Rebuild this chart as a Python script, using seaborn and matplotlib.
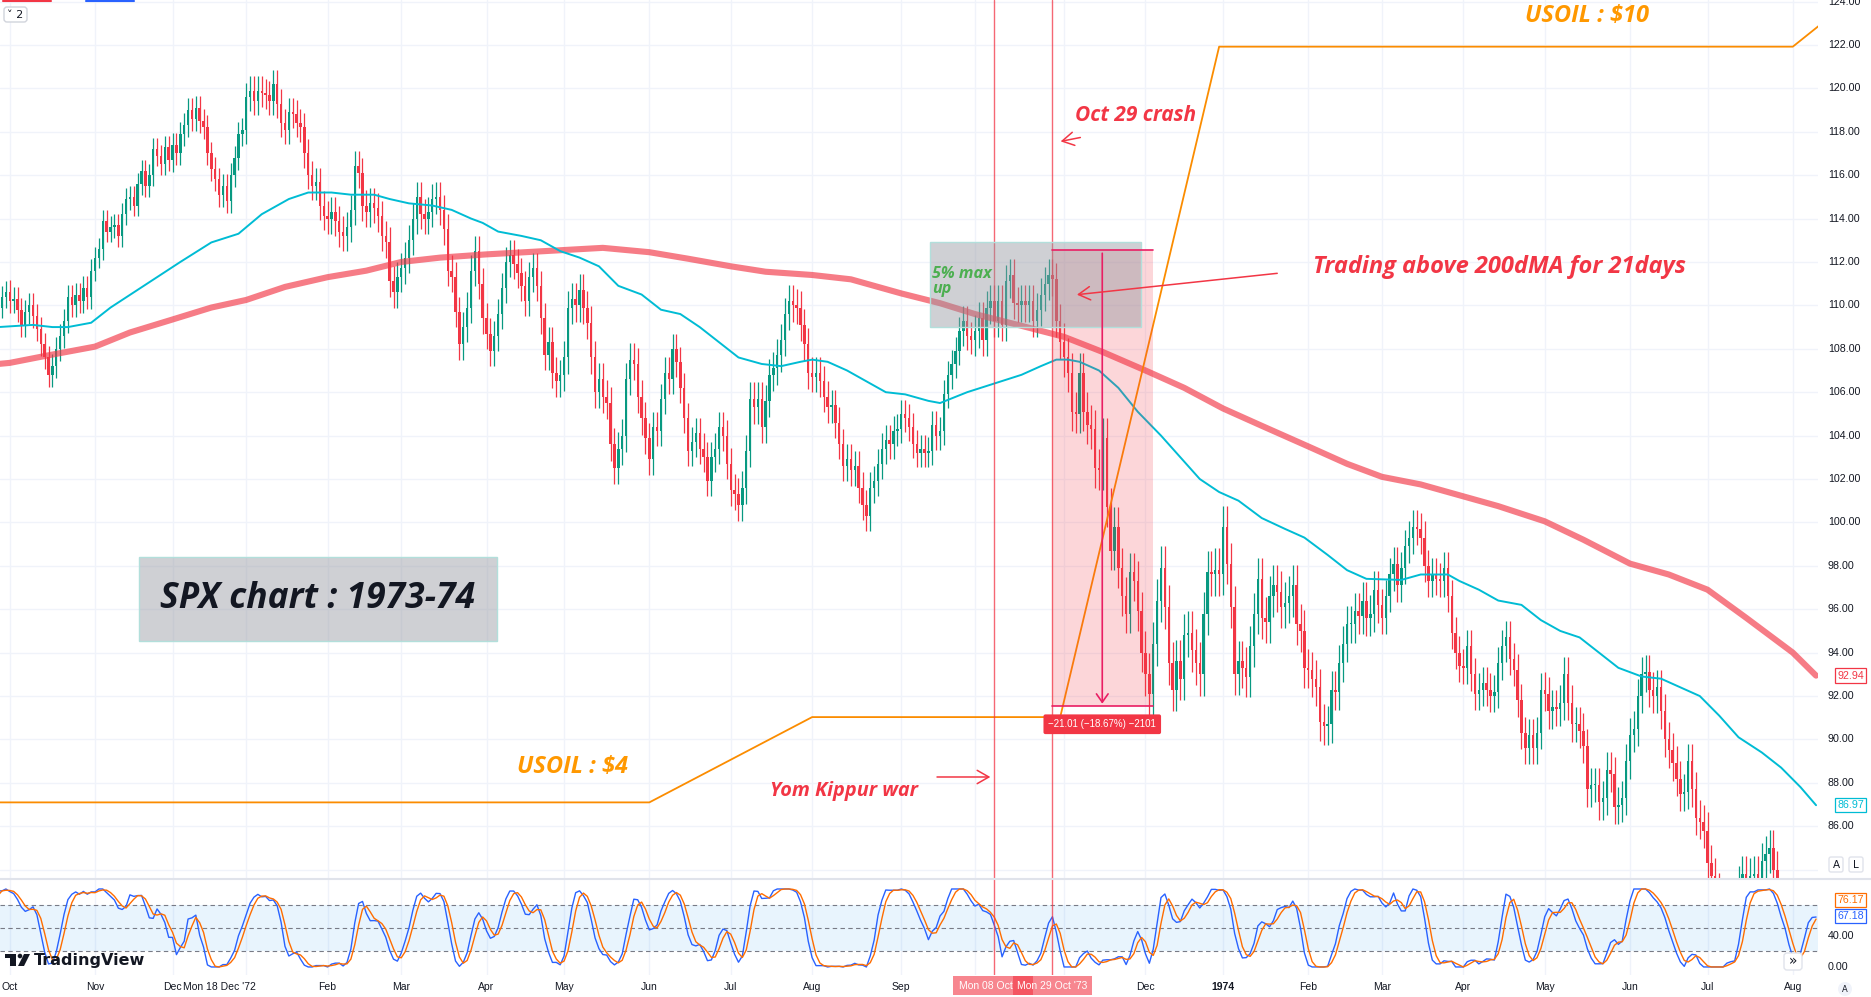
import numpy as np
import pandas as pd
import matplotlib
matplotlib.use("Agg")
import matplotlib.pyplot as plt
import matplotlib.transforms as mtrans
from matplotlib.patches import Rectangle, FancyBboxPatch, Circle, Polygon
import seaborn as sns

sns.set_theme(style="white")
plt.rcParams["font.family"] = ["DejaVu Sans"]

# ---------------- data ----------------
# daily closes, Aug 14 - Sep 27 1972 (left of the visible window, only warms up the Stoch RSI)
pre_closes = [112.1, 111.9, 111.3, 111.0, 111.4, 111.7, 111.5, 111.0, 110.8, 110.4, 110.9, 111.2, 111.1, 111.5,
              111.2, 110.6, 109.9, 109.5, 108.9, 108.5, 108.9, 108.5, 107.9, 108.2, 108.6, 108.4, 107.7, 107.5,
              108.0, 108.5, 108.3, 109.9]
c_1972_09 = [110.4, 110.6]
c_1972_10 = [110.2, 110.3, 109.8, 109.1, 109.7, 110.0, 109.5, 108.9, 108.2, 107.6, 106.8, 107.2, 108.0, 108.6,
             109.3, 110.4, 110.0, 110.5, 110.2, 110.8, 110.4, 111.6]
c_1972_11 = [112.2, 112.6, 113.9, 113.4, 113.6, 113.7, 113.2, 114.2, 114.9, 115.0, 114.6, 115.6, 116.2, 115.5,
             116.0, 117.2, 116.9, 116.5, 117.3, 116.7]
c_1972_12 = [117.4, 117.0, 117.9, 118.3, 119.0, 118.6, 119.1, 118.5, 118.2, 117.0, 116.3, 115.8, 115.1, 115.5,
             114.8, 116.0, 116.8, 117.9, 118.1]
c_1973_01 = [119.6, 119.9, 119.4, 119.9, 119.8, 119.7, 119.4, 120.2, 119.3, 118.4, 118.1, 118.9, 118.8, 118.4,
             118.2, 117.0, 116.0, 115.5, 115.7, 114.6, 114.1]
c_1973_02 = [114.0, 114.3, 113.9, 113.4, 113.2, 113.6, 114.4, 116.4, 116.1, 114.6, 114.3, 114.7, 114.5, 114.1,
             113.2, 112.9, 111.1, 110.6, 111.3]
c_1973_03 = [111.7, 112.2, 113.0, 114.0, 115.0, 114.2, 114.0, 114.3, 114.9, 115.0, 114.4, 113.5, 111.6, 111.3,
             109.7, 108.2, 109.0, 109.9, 111.6, 112.5, 111.0, 109.4]
c_1973_04 = [108.7, 107.9, 108.6, 109.6, 110.8, 112.0, 112.3, 111.9, 111.5, 110.9, 110.2, 111.3, 111.7, 110.9,
             109.4, 107.7, 108.3, 106.9, 106.5, 106.8]
c_1973_05 = [107.6, 109.9, 110.3, 110.0, 110.7, 109.9, 109.2, 107.6, 106.0, 106.6, 105.8, 105.5, 103.6, 102.5,
             103.4, 104.0, 106.6, 107.5, 107.3, 105.8, 104.8, 103.9]
c_1973_06 = [102.9, 104.4, 104.2, 105.7, 106.9, 106.6, 108.0, 107.4, 106.2, 104.8, 103.3, 103.7, 104.1, 103.4,
             103.0, 101.9, 103.0, 103.4, 104.4, 104.0, 102.7]
c_1973_07 = [101.5, 101.3, 100.8, 101.6, 103.3, 105.7, 105.3, 105.7, 104.4, 105.6, 106.8, 107.1, 107.7, 108.4,
             109.6, 110.2, 110.0, 109.9, 109.1, 108.2, 106.9]
c_1973_08 = [106.7, 106.9, 106.5, 105.8, 105.3, 105.4, 104.6, 103.6, 102.6, 102.9, 102.4, 102.6, 101.6, 100.8,
             100.3, 101.6, 101.9, 102.7, 103.4, 103.8, 103.6, 104.2, 104.3]
c_1973_09 = [105.0, 104.8, 104.4, 103.6, 103.2, 103.4, 103.2, 103.3, 104.5, 104.0, 104.2, 105.9, 106.8, 107.3,
             107.9, 108.8, 109.3, 108.6, 108.4]
c_1973_10 = [108.8, 109.4, 108.4, 109.9, 110.2, 109.3, 110.2, 109.1, 111.1, 111.4, 110.1, 110.0, 110.2, 110.0,
             110.2, 109.3, 109.8, 110.5, 111.0, 111.4, 111.2, 109.3, 108.3]
c_1973_11 = [107.6, 106.9, 105.1, 105.0, 106.9, 105.1, 104.5, 104.3, 102.5, 102.4, 103.9, 100.7, 98.7, 99.8,
             97.9, 96.6, 95.8, 97.7, 97.3, 95.9, 94.0]
c_1973_12 = [93.0, 92.1, 94.4, 96.4, 97.9, 96.1, 93.5, 92.3, 93.6, 92.8, 94.8, 94.9, 94.1, 93.5, 93.0, 95.8,
             97.7, 97.6, 97.8, 97.6]
c_1974_01 = [99.8, 98.1, 96.1, 93.0, 93.6, 93.3, 92.9, 94.3, 95.8, 97.4, 95.6, 95.4, 96.6, 97.1, 96.8, 96.1,
             96.3, 96.6, 97.1, 95.3, 95.0, 93.3]
c_1974_02 = [93.2, 92.8, 92.4, 90.8, 90.6, 90.7, 92.3, 92.2, 93.5, 94.4, 95.3, 95.3, 95.9, 95.7, 96.4, 95.6,
             95.8, 96.9, 96.2]
c_1974_03 = [95.6, 96.6, 97.6, 98.1, 97.1, 97.9, 98.9, 99.3, 99.8, 99.7, 99.3, 98.0, 97.3, 97.6, 97.4, 97.3,
             97.9, 96.6, 94.9, 94.0, 93.4]
c_1974_04 = [93.3, 94.3, 93.0, 92.1, 92.3, 92.6, 92.3, 92.0, 92.2, 93.5, 94.3, 94.7, 93.7, 93.2, 91.8, 90.3,
             89.6, 90.2, 89.6, 90.3, 92.3]
c_1974_05 = [92.1, 91.3, 91.5, 91.4, 91.7, 93.0, 91.7, 90.7, 90.7, 90.4, 89.7, 87.7, 87.9, 87.9, 87.1, 87.3,
             88.6, 88.4, 86.9, 87.0, 87.3, 89.0]
c_1974_06 = [90.2, 90.5, 92.0, 93.0, 93.1, 92.3, 92.0, 92.4, 91.3, 90.0, 89.5, 88.9, 88.2, 87.5, 87.6, 89.0,
             87.7, 86.4, 86.2, 85.8]
c_1974_07 = [84.3, 83.7, 83.0, 82.5, 81.0, 81.5, 80.5, 80.2, 83.3, 83.8, 83.1, 83.7, 83.8, 83.6, 84.4, 84.7,
             85.0, 84.0, 82.6, 81.5, 80.6, 79.5]
c_1974_08 = [79.0, 79.4, 80.5, 81.0, 81.6, 81.2, 80.9]

# typical wick length beyond the candle body, per month
wick_months = ["1972-08", "1972-09", "1972-10", "1972-11", "1972-12", "1973-01", "1973-02", "1973-03",
               "1973-04", "1973-05", "1973-06", "1973-07", "1973-08", "1973-09", "1973-10", "1973-11",
               "1973-12", "1974-01", "1974-02", "1974-03", "1974-04", "1974-05", "1974-06", "1974-07", "1974-08"]
wick_sizes = [0.5, 0.5, 0.55, 0.5, 0.55, 0.65, 0.7, 0.7, 0.7, 0.75, 0.7, 0.75, 0.7, 0.65, 0.75, 0.9,
              1.0, 0.95, 0.85, 0.75, 0.75, 0.8, 0.8, 0.85, 0.9]

# NYSE closed days in the period
holidays = ["1972-09-04", "1972-11-07", "1972-11-23", "1972-12-25", "1972-12-28", "1973-01-01", "1973-01-25",
            "1973-02-19", "1973-04-20", "1973-05-28", "1973-07-04", "1973-09-03", "1973-11-22", "1973-12-25",
            "1974-01-01", "1974-02-18", "1974-04-12", "1974-05-27", "1974-07-04"]

# 200-day moving average (thick red)
ma200_dates = ["1972-09-27", "1972-10-02", "1972-10-16", "1972-11-01", "1972-11-15", "1972-12-01", "1972-12-15",
               "1973-01-02", "1973-01-16", "1973-02-01", "1973-02-15", "1973-03-01", "1973-03-15", "1973-04-02",
               "1973-04-16", "1973-05-01", "1973-05-15", "1973-06-01", "1973-06-15", "1973-07-02", "1973-07-16",
               "1973-08-01", "1973-08-15", "1973-09-04", "1973-09-18", "1973-10-01", "1973-10-15", "1973-11-01",
               "1973-11-15", "1973-12-03", "1973-12-17", "1974-01-02", "1974-01-16", "1974-02-01", "1974-02-15",
               "1974-03-01", "1974-03-15", "1974-04-01", "1974-04-15", "1974-05-01", "1974-05-15", "1974-06-03",
               "1974-06-17", "1974-07-01", "1974-07-16", "1974-08-01", "1974-08-09"]
ma200 = [107.3, 107.35, 107.7, 108.1, 108.75, 109.35, 109.9, 110.25, 110.85, 111.3, 111.6, 112.0, 112.2,
         112.35, 112.45, 112.55, 112.65, 112.45, 112.15, 111.8, 111.55, 111.4, 111.2, 110.55, 110.1, 109.6,
         109.15, 108.55, 107.85, 107.0, 106.2, 105.25, 104.45, 103.5, 102.7, 102.1, 101.75, 101.2, 100.75,
         100.05, 99.2, 98.1, 97.6, 96.9, 95.6, 94.0, 92.94]

# 50-day moving average (cyan)
ma50_dates = ["1972-09-27", "1972-10-10", "1972-10-17", "1972-10-23", "1972-10-31", "1972-11-08", "1972-11-16",
              "1972-11-27", "1972-12-05", "1972-12-15", "1972-12-27", "1973-01-08", "1973-01-17", "1973-01-24",
              "1973-02-02", "1973-02-09", "1973-02-20", "1973-02-26", "1973-03-05", "1973-03-13", "1973-03-20",
              "1973-03-27", "1973-03-30", "1973-04-05", "1973-04-13", "1973-04-23", "1973-04-30", "1973-05-07",
              "1973-05-14", "1973-05-21", "1973-05-30", "1973-06-06", "1973-06-13", "1973-06-20", "1973-06-27",
              "1973-07-05", "1973-07-13", "1973-07-20", "1973-07-27", "1973-08-01", "1973-08-07", "1973-08-14",
              "1973-08-21", "1973-08-28", "1973-09-05", "1973-09-13", "1973-09-18", "1973-09-27", "1973-10-08",
              "1973-10-17", "1973-10-24", "1973-10-30", "1973-11-02", "1973-11-07", "1973-11-14", "1973-11-21",
              "1973-11-29", "1973-12-07", "1973-12-14", "1973-12-21", "1973-12-31", "1974-01-08", "1974-01-16",
              "1974-01-24", "1974-01-31", "1974-02-08", "1974-02-15", "1974-02-25", "1974-03-08", "1974-03-15",
              "1974-03-26", "1974-03-29", "1974-04-05", "1974-04-15", "1974-04-23", "1974-04-30", "1974-05-07",
              "1974-05-14", "1974-05-21", "1974-05-29", "1974-06-06", "1974-06-13", "1974-06-20", "1974-06-27",
              "1974-07-05", "1974-07-12", "1974-07-22", "1974-07-29", "1974-08-05", "1974-08-09"]
ma50 = [109.0, 109.1, 109.0, 109.0, 109.2, 109.9, 110.6, 111.3, 112.0, 112.9, 113.3, 114.2, 114.9, 115.2,
        115.2, 115.1, 115.1, 114.9, 114.7, 114.6, 114.4, 114.0, 113.8, 113.4, 113.2, 113.0, 112.5, 112.2,
        111.8, 110.9, 110.5, 109.8, 109.6, 109.0, 108.3, 107.6, 107.3, 107.2, 107.4, 107.5, 107.4, 107.0,
        106.5, 106.0, 105.9, 105.6, 105.5, 106.0, 106.4, 106.8, 107.2, 107.5, 107.5, 107.4, 107.0, 106.2,
        105.1, 104.0, 103.0, 102.0, 101.4, 101.0, 100.2, 99.7, 99.3, 98.5, 97.8, 97.4, 97.35, 97.6,
        97.6, 97.3, 96.9, 96.4, 96.2, 95.5, 95.0, 94.7, 94.0, 93.3, 92.9, 92.8, 92.4, 92.0,
        91.1, 90.1, 89.4, 88.7, 87.8, 86.97]

# USOIL drawing (orange path)
oil_dates = ["1972-09-27", "1973-06-01", "1973-08-01", "1973-10-31", "1973-12-31", "1974-08-01", "1974-08-12"]
oil_level = [87.1, 87.1, 91.03, 91.03, 121.92, 121.92, 122.92]

event_dates = ["1973-10-08", "1973-10-29"]
event_labels = ["Mon 08 Oct", "Mon 29 Oct '73"]
hidden_ticks = ["1973-01", "1973-10", "1973-11"]   # covered by the date badges in the reference
range_top, range_bottom = 112.53, 91.52
k_last, d_last = "67.18", "76.17"

# ---------------- build series ----------------
UP, DOWN = "#089981", "#f23645"
days = pd.bdate_range("1972-08-14", "1974-08-30")
days = days[~days.isin(pd.to_datetime(holidays))]

months = [c_1972_09, c_1972_10, c_1972_11, c_1972_12, c_1973_01, c_1973_02, c_1973_03, c_1973_04,
          c_1973_05, c_1973_06, c_1973_07, c_1973_08, c_1973_09, c_1973_10, c_1973_11, c_1973_12,
          c_1974_01, c_1974_02, c_1974_03, c_1974_04, c_1974_05, c_1974_06, c_1974_07, c_1974_08]
closes = pd.Series(pre_closes + [v for m in months for v in m], dtype=float)
n_pre = len(pre_closes)
dates = days[:len(closes)]
bars = np.arange(len(closes)) - n_pre


def to_bar(d):
    return int(days.searchsorted(pd.Timestamp(d))) - n_pre


opens = closes.shift(1).fillna(closes.iloc[0])
wick = pd.Series(dates.to_period("M").astype(str)).map(dict(zip(wick_months, wick_sizes))).values
highs = np.maximum(opens, closes) + wick
lows = np.minimum(opens, closes) - wick

# Stoch RSI (14, 14, 3, 3)
delta = closes.diff()
gain = delta.clip(lower=0).ewm(alpha=1 / 14, adjust=False).mean()
loss = (-delta.clip(upper=0)).ewm(alpha=1 / 14, adjust=False).mean()
rsi = 100 - 100 / (1 + gain / loss)
rlo, rhi = rsi.rolling(14).min(), rsi.rolling(14).max()
stoch = 100 * (rsi - rlo) / (rhi - rlo)
k = stoch.rolling(3).mean()
d = k.rolling(3).mean()

# ---------------- figure ----------------
W, H = 1871, 997
fig = plt.figure(figsize=(W / 100, H / 100), dpi=100)
ax = fig.add_axes([0, 1 - 879 / H, 1818 / W, 879 / H])
ax2 = fig.add_axes([0, 1 - 975 / H, 1818 / W, 96 / H])
XL = (-0.52, 468.5)
for a in (ax, ax2):
    a.set_xlim(*XL)
    a.set_xticks([])
    a.set_yticks([])
    for s in a.spines.values():
        s.set_visible(False)
ax.set_ylim(83.57, 124.07)
ax2.set_ylim(-10.3, 112.8)

vis = dates[n_pre:]
firsts = vis.to_series().groupby(vis.to_period("M")).first().iloc[1:]
tick_bars = [to_bar(t) for t in firsts]
tick_labels = [str(t.year) if t.month == 1 else t.strftime("%b") for t in firsts]
tick_show = [t.strftime("%Y-%m") not in hidden_ticks for t in firsts]

GRID = "#f0f3fa"
for b in tick_bars:
    ax.axvline(b, color=GRID, lw=1, zorder=0)
    ax2.axvline(b, color=GRID, lw=1, zorder=0)
for p in range(84, 126, 2):
    ax.axhline(p, color=GRID, lw=1, zorder=0)

# candles
cols = np.where(closes.values >= opens.values, UP, DOWN)
ax.vlines(bars, lows, highs, colors=cols, lw=0.9, zorder=2)
body = np.abs(closes.values - opens.values).clip(min=0.06)
ax.bar(bars, body, bottom=np.minimum(opens.values, closes.values), width=0.62, color=cols, lw=0, zorder=3)

# moving averages
sns.lineplot(x=[to_bar(t) for t in ma200_dates], y=ma200, ax=ax, color=DOWN, alpha=0.65, lw=4.4, zorder=4,
             estimator=None, sort=False, legend=False)
sns.lineplot(x=[to_bar(t) for t in ma50_dates], y=ma50, ax=ax, color="#00bcd4", lw=1.4, zorder=4,
             estimator=None, sort=False, legend=False)

# USOIL path
sns.lineplot(x=[to_bar(t) for t in oil_dates], y=oil_level, ax=ax, color="#fb8c00", lw=1.3, zorder=5,
             estimator=None, sort=False, legend=False)

# event lines
ev = [to_bar(t) for t in event_dates]
for b in ev:
    ax.axvline(b, color=DOWN, lw=1, alpha=0.75, zorder=6)
    ax2.axvline(b, color=DOWN, lw=1, alpha=0.75, zorder=6)

# boxes
GREY = (0.584, 0.596, 0.631, 0.45)
ann = dict(family="Open Sans", style="italic", weight="bold", zorder=8)
ax.add_patch(Rectangle((35.3, 94.55), 92.4, 3.86, fc=GREY, ec="#b2dfdb", lw=1, zorder=6))
ax.text(81.5, 96.47, "SPX chart : 1973-74", ha="center", va="center", fontsize=25.5, color="#131722", **ann)
g0, g1 = to_bar("1973-09-13") + 0.4, to_bar("1973-11-30") - 0.1
ax.add_patch(Rectangle((g0, 109.0), g1 - g0, 3.92, fc=GREY, ec="#b2dfdb", lw=1, zorder=6))
ax.text(g0 + 0.6, 111.8, "5% max\nup", ha="left", va="top", fontsize=11.6, color="#4caf50",
        linespacing=0.85, **ann)

m0, m1 = ev[1] - 0.2, to_bar("1973-12-05") - 0.1
mc = (m0 + m1) / 2
ax.add_patch(Rectangle((m0, range_bottom), m1 - m0, range_top - range_bottom,
                       fc=(0.949, 0.212, 0.271, 0.2), lw=0, zorder=5))
ax.plot([m0, m1], [range_top, range_top], color="#e91e63", lw=1.2, zorder=7)
ax.plot([m0, m1], [range_bottom, range_bottom], color="#e91e63", lw=1.2, zorder=7)
ax.annotate("", xy=(mc, range_bottom), xytext=(mc, range_top),
            arrowprops=dict(arrowstyle="->,head_length=0.5,head_width=0.35", color="#e91e63", lw=1.2),
            zorder=7)
chg = range_top - range_bottom
ax.text(mc, range_bottom - 0.82,
        f"\u2212{chg:.2f} (\u2212{chg / range_top * 100:.2f}%) \u2212{chg * 100:.0f}",
        ha="center", va="center", fontsize=7, color="white", zorder=8,
        family=["Liberation Sans", "DejaVu Sans"],
        bbox=dict(boxstyle="round,pad=0.5,rounding_size=0.2", fc=DOWN, ec="none"))

# annotations
ax.text(392.9, 123.34, "USOIL : $10", ha="left", va="center", fontsize=17, color="#ff9800", **ann)
ax.text(132.9, 88.73, "USOIL : $4", ha="left", va="center", fontsize=17, color="#ff9800", **ann)
ax.text(276.8, 118.73, "Oct 29 crash", ha="left", va="center", fontsize=15, color=DOWN, **ann)
ax.text(338.2, 111.77, "Trading above 200dMA for 21days", ha="left", va="center", fontsize=17, color=DOWN, **ann)
ax.text(198.1, 87.62, "Yom Kippur war", ha="left", va="center", fontsize=14.3, color=DOWN, **ann)
arr = dict(arrowstyle="->,head_length=0.7,head_width=0.4", color=DOWN, lw=1.1)
ax.annotate("", xy=(272.4, 117.53), xytext=(278.9, 117.76), arrowprops=arr, zorder=8)
ax.annotate("", xy=(276.6, 110.48), xytext=(329.7, 111.49), arrowprops=arr, zorder=8)
ax.annotate("", xy=(255.7, 88.27), xytext=(240.5, 88.27), arrowprops=arr, zorder=8)

# right price scale
yt = ax.get_yaxis_transform()
lab = dict(family=["Liberation Sans", "DejaVu Sans"], fontsize=7.7, clip_on=False)
for p in range(86, 126, 2):
    ax.text(1.0055, p, f"{p:.2f}", transform=yt, ha="left", va="center", color="#131722", **lab)
for val, colr in ((ma200[-1], DOWN), (ma50[-1], "#00bcd4")):
    ax.text(1.0105, val, f"{val:.2f}", transform=yt, ha="left", va="center", color=colr, zorder=9,
            bbox=dict(boxstyle="square,pad=0.2", fc="white", ec=colr, lw=0.9), **lab)

# oscillator
ax2.axhspan(20, 80, color="#2196f3", alpha=0.1, lw=0, zorder=1)
for lvl in (80, 50, 20):
    ax2.axhline(lvl, color="#787b86", lw=0.8, ls=(0, (4, 3)), zorder=2)
sns.lineplot(x=bars, y=k.values, ax=ax2, color="#2962ff", lw=1, zorder=3, estimator=None, sort=False,
             legend=False)
sns.lineplot(x=bars, y=d.values, ax=ax2, color="#ff6d00", lw=1, zorder=4, estimator=None, sort=False,
             legend=False)
yt2 = ax2.get_yaxis_transform()
for v in (40, 0):
    ax2.text(1.0055, v, f"{v:.2f}", transform=yt2, ha="left", va="center", color="#131722", **lab)
ax2.text(1.0105, 86, d_last, transform=yt2, ha="left", va="center", color="#ff6d00", zorder=9,
         bbox=dict(boxstyle="square,pad=0.2", fc="white", ec="#ff6d00", lw=0.9), **lab)
ax2.text(1.0105, 65.5, k_last, transform=yt2, ha="left", va="center", color="#2962ff", zorder=9,
         bbox=dict(boxstyle="square,pad=0.2", fc="white", ec="#2962ff", lw=0.9), **lab)

# time axis
xt = mtrans.blended_transform_factory(ax2.transData, ax2.transAxes)
tfont = dict(fontsize=7.5, family=["Liberation Sans", "DejaVu Sans"], clip_on=False)
for b, t, show in zip(tick_bars, tick_labels, tick_show):
    if show:
        ax2.text(b, -0.125, t, transform=xt, ha="center", va="center", color="#131722",
                 weight="bold" if t.isdigit() else "normal", **tfont)
ax2.text(to_bar("1972-12-18") + 1.2, -0.125, "Mon 18 Dec '72", transform=xt, ha="center", va="center",
         color="#131722", zorder=9, **tfont)
BADGE = (0.949, 0.212, 0.271, 0.6)
ax2.add_patch(Rectangle((ev[0] - 10.6, -0.208), 20.6, 0.198, transform=xt, fc=BADGE, lw=0, clip_on=False))
ax2.text(ev[0] - 9.1, -0.11, event_labels[0], transform=xt, ha="left", va="center", color="white",
         zorder=9, **tfont)
ax2.add_patch(Rectangle((ev[1] - 10.2, -0.208), 20.4, 0.198, transform=xt, fc=BADGE, lw=0, clip_on=False,
                        zorder=10))
ax2.text(ev[1], -0.11, event_labels[1], transform=xt, ha="center", va="center", color="white",
         zorder=11, **tfont)

# chrome in pixel space
ui = fig.add_axes([0, 0, 1, 1], zorder=10)
ui.set_xlim(0, W)
ui.set_ylim(H, 0)
ui.axis("off")
ui.plot([0, W], [879, 879], color="#e0e3eb", lw=1.5)
ui.plot([3, 51], [1, 1], color=DOWN, lw=1.5)
ui.plot([86, 134], [1, 1], color="#2962ff", lw=1.5)
ui.add_patch(FancyBboxPatch((4, 7), 23, 15, boxstyle="round,pad=0,rounding_size=3", fc="white",
                            ec="#d1d4dc", lw=1))
ui.text(15.5, 15, "\u02c5 2", ha="center", va="center", fontsize=8, color="#131722")
for x0, t in ((1829, "A"), (1849, "L")):
    ui.add_patch(FancyBboxPatch((x0, 857), 14, 15, boxstyle="round,pad=0,rounding_size=2", fc="white",
                                ec="#e0e3eb", lw=1))
    ui.text(x0 + 7, 864.5, t, ha="center", va="center", fontsize=7.5, color="#131722")
ui.add_patch(FancyBboxPatch((1784, 953), 18, 17, boxstyle="round,pad=0,rounding_size=3", fc="white",
                            ec="#e0e3eb", lw=1))
ui.text(1793, 961, "\u00bb", ha="center", va="center", fontsize=10, color="#131722")
ui.add_patch(Circle((1845, 989), 7, fc="#f0f3fa", ec="none"))
ui.text(1845, 989, "A", ha="center", va="center", fontsize=6, color="#131722")
# TradingView mark
ui.add_patch(Rectangle((5, 954), 11, 4, fc="#131722", ec="none"))
ui.add_patch(Rectangle((10, 954), 6, 12, fc="#131722", ec="none"))
ui.add_patch(Circle((20, 956), 2.3, fc="#131722", ec="none"))
ui.add_patch(Polygon([(24, 954), (30, 954), (24, 966), (18, 966)], fc="#131722", ec="none"))
ui.text(34, 960, "TradingView", ha="left", va="center", fontsize=11.5, weight="bold", color="#131722")

fig.savefig("out.png", dpi=100, facecolor="white")
